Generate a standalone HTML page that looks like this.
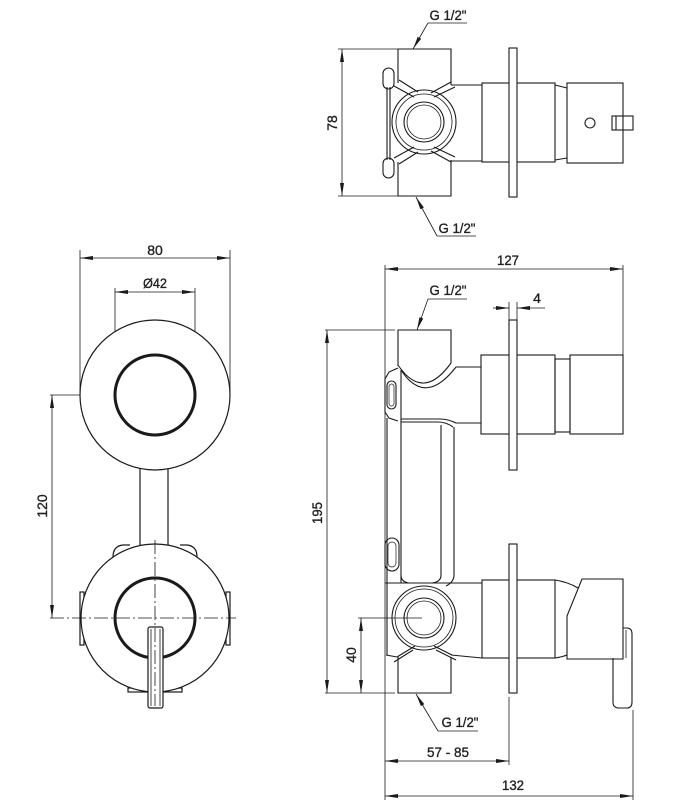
<!DOCTYPE html>
<html><head><meta charset="utf-8"><style>
html,body{margin:0;padding:0;background:#fff;}
svg{display:block;}
text{font-family:"Liberation Sans",sans-serif;font-size:14px;fill:#231f20;stroke:#231f20;stroke-width:0.35;}
</style></head><body>
<svg width="691" height="811" viewBox="0 0 691 811" xmlns="http://www.w3.org/2000/svg">
<defs>
<marker id="a" viewBox="0 0 13 4" refX="13" refY="2" markerWidth="13" markerHeight="4" markerUnits="userSpaceOnUse" orient="auto-start-reverse">
<path d="M0,0 L13,2 L0,4 Z" fill="#1a1a1a"/>
</marker>
</defs>

<g fill="none" stroke="#1a1a1a" stroke-width="0.8">
<line x1="80" y1="250" x2="80" y2="395"/>
<line x1="230" y1="250" x2="230" y2="395"/>
<line x1="80" y1="258" x2="230" y2="258" marker-start="url(#a)" marker-end="url(#a)"/>
<line x1="115" y1="288" x2="115" y2="395"/>
<line x1="195" y1="288" x2="195" y2="395"/>
<line x1="115" y1="292" x2="195" y2="292" marker-start="url(#a)" marker-end="url(#a)"/>
<line x1="50" y1="395" x2="152" y2="395"/>
<line x1="52" y1="395" x2="52" y2="618" marker-start="url(#a)" marker-end="url(#a)"/>
</g>

<g fill="none" stroke="#1a1a1a" stroke-width="1.2">
<line x1="140" y1="468" x2="140" y2="545"/>
<line x1="168" y1="468" x2="168" y2="545"/>
<circle cx="155" cy="395" r="75" fill="#fff"/>
<circle cx="155" cy="395" r="40" stroke-width="3"/>
<path d="M113,557 Q113,546 123,545 H130"/>
<path d="M197,557 Q197,546 187,545 H180"/>
<rect x="80" y="592" width="4" height="53"/>
<rect x="226" y="592" width="4" height="53"/>
<rect x="128" y="688" width="22" height="4"/>
<rect x="162" y="688" width="20" height="4"/>
<circle cx="155" cy="618" r="74" fill="#fff"/>
<circle cx="155" cy="618" r="40" stroke-width="3"/>
<rect x="148" y="627" width="15" height="81" rx="2" fill="#fff"/>
<line x1="151" y1="629" x2="151" y2="706" stroke-width="0.8"/>
<line x1="160" y1="629" x2="160" y2="706" stroke-width="0.8"/>
</g>
<g fill="none" stroke="#1a1a1a" stroke-width="0.8" stroke-dasharray="14 3 2 3">
<line x1="50" y1="618" x2="236" y2="618"/>
<line x1="155" y1="540" x2="155" y2="706"/>
</g>

<g fill="none" stroke="#1a1a1a" stroke-width="0.8">
<line x1="338" y1="49" x2="398" y2="49"/>
<line x1="338" y1="196" x2="398" y2="196"/>
<line x1="342" y1="49" x2="342" y2="196" marker-start="url(#a)" marker-end="url(#a)"/>
<polyline points="467,23 428,23"/>
<line x1="428" y1="23" x2="413" y2="49" marker-end="url(#a)"/>
<polyline points="476,236 437,236"/>
<line x1="437" y1="236" x2="416" y2="197" marker-end="url(#a)"/>
</g>
<g fill="none" stroke="#1a1a1a" stroke-width="1.1">
<rect x="383" y="68" width="11" height="21" rx="5.5"/>
<rect x="383" y="158" width="11" height="20" rx="5.5"/>
<line x1="387" y1="87" x2="387" y2="160"/>
<line x1="390" y1="87" x2="390" y2="160"/>
<path d="M398,83 V49 H451 V85"/>
<path d="M398,162 V196 H451 V160"/>
<path d="M394,86 L414,97"/>
<path d="M399,80 L418,92"/>
<path d="M455,87 L434,97"/>
<path d="M451,82 L431,93"/>
<path d="M394,158 L414,147"/>
<path d="M399,164 L418,152"/>
<path d="M455,157 L434,147"/>
<path d="M451,162 L431,151"/>
<circle cx="424" cy="122" r="32"/>
<circle cx="424" cy="122" r="28" stroke-width="0.8"/>
<circle cx="424" cy="122" r="20"/>
<circle cx="424" cy="122" r="17" stroke-width="0.8"/>
<line x1="451" y1="85" x2="482" y2="85"/>
<line x1="451" y1="161" x2="482" y2="161"/>
<rect x="482" y="83" width="73" height="79"/>
<rect x="509" y="48" width="8" height="149" fill="#fff"/>
<path d="M555,85 L567,88 M555,160 L567,158"/>
<rect x="567" y="83" width="56" height="80"/>
<circle cx="590" cy="123" r="5"/>
<rect x="612" y="116" width="21" height="14"/>
<line x1="616" y1="116" x2="616" y2="130"/>
</g>

<g fill="none" stroke="#1a1a1a" stroke-width="0.8">
<line x1="385" y1="265" x2="385" y2="800"/>
<line x1="623" y1="265" x2="623" y2="355"/>
<line x1="385" y1="269" x2="623" y2="269" marker-start="url(#a)" marker-end="url(#a)"/>
<line x1="467" y1="299" x2="428" y2="299"/>
<line x1="428" y1="299" x2="417" y2="330" marker-end="url(#a)"/>
<line x1="509" y1="302" x2="509" y2="320"/>
<line x1="517" y1="302" x2="517" y2="320"/>
<line x1="493" y1="308" x2="509" y2="308" marker-end="url(#a)"/>
<line x1="545" y1="308" x2="517" y2="308" marker-end="url(#a)"/>
<line x1="325" y1="330" x2="395" y2="330"/>
<line x1="325" y1="693" x2="395" y2="693"/>
<line x1="327" y1="330" x2="327" y2="693" marker-start="url(#a)" marker-end="url(#a)"/>
<line x1="358" y1="618" x2="422" y2="618"/>
<line x1="361" y1="618" x2="361" y2="693" marker-start="url(#a)" marker-end="url(#a)"/>
<line x1="478" y1="731" x2="438" y2="731"/>
<line x1="438" y1="731" x2="416" y2="694" marker-end="url(#a)"/>
<line x1="509" y1="697" x2="509" y2="765"/>
<line x1="385" y1="761" x2="509" y2="761" marker-start="url(#a)" marker-end="url(#a)"/>
<line x1="633" y1="710" x2="633" y2="800"/>
<line x1="385" y1="796" x2="633" y2="796" marker-start="url(#a)" marker-end="url(#a)"/>
</g>

<g fill="none" stroke="#1a1a1a" stroke-width="1.1">
<path d="M398,366 V330 H451 V363"/>
<path d="M398,365 Q423,402 451,363"/>
<path d="M401,370 Q425,407 456,367"/>
<path d="M398,368 L389,372 L385,379 L385,412 L389,418 L398,421"/>
<rect x="387" y="381" width="9" height="28" rx="4.5"/>
<rect x="389" y="384" width="5" height="22" rx="2.5" stroke-width="0.7"/>
<line x1="401" y1="370" x2="401" y2="583"/>
<line x1="387" y1="418" x2="387" y2="583"/>
<line x1="456" y1="367" x2="481" y2="367"/>
<path d="M401,419 H440 Q448,419 456,423 H481"/>
<path d="M401,422 H438 Q446,422 453,427"/>
<line x1="441" y1="425" x2="441" y2="575"/>
<line x1="454" y1="427" x2="454" y2="575"/>
<path d="M441,575 Q441,582 432,583"/>
<path d="M454,575 Q454,582 446,586"/>
<path d="M401,575 Q401,582 409,583"/>
<rect x="385" y="538" width="14" height="33" rx="7"/>
<rect x="388" y="542" width="8" height="25" rx="4" stroke-width="0.7"/>
<rect x="481" y="355" width="74" height="79"/>
<rect x="509" y="320" width="8" height="150" fill="#fff"/>
<rect x="555" y="359" width="15" height="73"/>
<rect x="570" y="355" width="53" height="79"/>
<path d="M385,583 H482"/>
<line x1="387" y1="583" x2="387" y2="655"/>
<circle cx="424" cy="618" r="32"/>
<circle cx="424" cy="618" r="29" stroke-width="0.8"/>
<circle cx="424" cy="618" r="20"/>
<circle cx="424" cy="618" r="17" stroke-width="0.8"/>
<path d="M386,655 L397,657"/>
<path d="M397,657 L415,646"/>
<path d="M394,662 L413,650"/>
<path d="M452,655 L434,646"/>
<path d="M456,660 L436,650"/>
<path d="M451,655 L482,658"/>
<path d="M398,657 V693 H451 V657"/>
<rect x="482" y="580" width="73" height="78"/>
<rect x="509" y="544" width="8" height="149" fill="#fff"/>
<path d="M555,580 Q568,582 578,588"/>
<path d="M555,658 Q562,657 567,655"/>
<path d="M582,579 H623 V659 H567 V616 Z" fill="#fff"/>
<path d="M613,658 V702 Q613,708 619,708 H627 Q632,708 632,702 V634 Q632,628 627,628 H623"/>
<line x1="626" y1="630" x2="626" y2="658" stroke-width="0.8"/>
</g>

<text x="155" y="255" text-anchor="middle">80</text>
<text x="155" y="288" text-anchor="middle" textLength="24" lengthAdjust="spacingAndGlyphs">Ø42</text>
<text transform="translate(47,506) rotate(-90)" text-anchor="middle">120</text>

<text x="448" y="20" text-anchor="middle" textLength="37" lengthAdjust="spacingAndGlyphs">G 1/2"</text>
<text x="457" y="233" text-anchor="middle" textLength="37" lengthAdjust="spacingAndGlyphs">G 1/2"</text>
<text transform="translate(337,123) rotate(-90)" text-anchor="middle">78</text>

<text x="508" y="265" text-anchor="middle" textLength="22" lengthAdjust="spacingAndGlyphs">127</text>
<text x="448" y="295" text-anchor="middle" textLength="37" lengthAdjust="spacingAndGlyphs">G 1/2"</text>
<text x="537" y="303" text-anchor="middle">4</text>
<text transform="translate(322,513) rotate(-90)" text-anchor="middle" textLength="22" lengthAdjust="spacingAndGlyphs">195</text>
<text transform="translate(356,655) rotate(-90)" text-anchor="middle">40</text>
<text x="460" y="727" text-anchor="middle" textLength="37" lengthAdjust="spacingAndGlyphs">G 1/2"</text>
<text x="448" y="757" text-anchor="middle" textLength="42" lengthAdjust="spacingAndGlyphs">57 - 85</text>
<text x="513" y="790" text-anchor="middle" textLength="22" lengthAdjust="spacingAndGlyphs">132</text>
</svg>
</body></html>
